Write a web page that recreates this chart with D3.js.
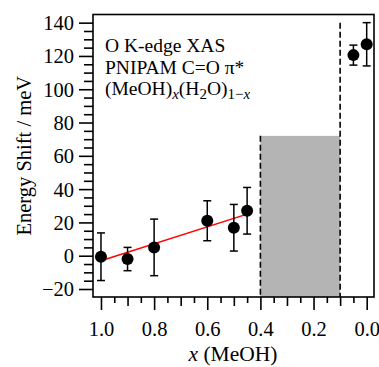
<!DOCTYPE html>
<html>
<head>
<meta charset="utf-8">
<script src="https://cdn.jsdelivr.net/npm/d3@7"></script>
<style>
  body { margin: 0; background: #fff; }
  svg text { font-family: "Liberation Serif", "Times New Roman", serif; fill: #000; }
</style>
</head>
<body>
<div id="chart"></div>
<script>
// Data
const xMeOH = [1.0, 0.9, 0.8, 0.6, 0.5, 0.45, 0.05, 0.0];
const shift = [-0.6, -2, 5, 21, 16.8, 27, 120.5, 127];
const shiftErr = [14.3, 7, 17, 12, 14, 14, 6, 13];
const fitX = [1.0, 0.45];
const fitY = [-3, 25];
const grayBand = [0.4, 0.1];
const grayTop = 72;
const dashTop = [72, 140];
const yTicks = [-20, 0, 20, 40, 60, 80, 100, 120, 140];
const xTicks = [1.0, 0.8, 0.6, 0.4, 0.2, 0.0];
const labelLines = ['O K-edge XAS', 'PNIPAM C=O \u03c0*'];

const width = 379, height = 367;
const m = { top: 14.5, right: 5, bottom: 70, left: 93 };

const svg = d3.select('#chart').append('svg')
  .attr('width', width)
  .attr('height', height);

const x = d3.scaleLinear().domain([1.03, -0.0275]).range([m.left, width - m.right]);
const y = d3.scaleLinear().domain([-24.8, 144.9]).range([height - m.bottom, m.top]);

// gray band + dashed lines
svg.append('rect')
  .attr('x', x(grayBand[0]))
  .attr('y', y(grayTop))
  .attr('width', x(grayBand[1]) - x(grayBand[0]))
  .attr('height', y(-24.8) - y(grayTop))
  .attr('fill', '#b4b4b4');

svg.selectAll('.dash')
  .data(grayBand)
  .enter().append('line')
    .attr('class', 'dash')
    .attr('x1', d => x(d)).attr('x2', d => x(d))
    .attr('y1', (d, i) => y(dashTop[i]))
    .attr('y2', y(-24.8))
    .attr('stroke', '#000')
    .attr('stroke-width', 1.6)
    .attr('stroke-dasharray', '6,3');

// frame
svg.append('rect')
  .attr('x', m.left).attr('y', m.top)
  .attr('width', width - m.right - m.left)
  .attr('height', height - m.bottom - m.top)
  .attr('fill', 'none')
  .attr('stroke', '#000')
  .attr('stroke-width', 1.6);

// y axis: major + minor ticks
const yMinor = d3.range(-20, 141, 5).filter(v => v % 20 !== 0);
const yAxis = svg.append('g').attr('transform', `translate(${m.left},0)`);
yAxis.call(d3.axisLeft(y).tickValues(yTicks).tickSize(14).tickSizeOuter(0).tickPadding(5).tickFormat(d3.format('d')));
yAxis.append('g').call(d3.axisLeft(y).tickValues(yMinor).tickSize(9).tickSizeOuter(0).tickFormat(''));
yAxis.selectAll('.domain').remove();
yAxis.selectAll('line').attr('stroke-width', 1.6);
yAxis.selectAll('text').style('font-size', '20.5px').attr('dy', '0.34em');

// x axis: major, medium, minor
const xMed = [0.9, 0.7, 0.5, 0.3, 0.1];
const xMinor = [0.95, 0.85, 0.75, 0.65, 0.55, 0.45, 0.35, 0.25, 0.15, 0.05];
const xAxis = svg.append('g').attr('transform', `translate(0,${height - m.bottom})`);
xAxis.call(d3.axisBottom(x).tickValues(xTicks).tickSize(13).tickSizeOuter(0).tickPadding(11).tickFormat(d3.format('.1f')));
xAxis.append('g').call(d3.axisBottom(x).tickValues(xMed).tickSize(9).tickSizeOuter(0).tickFormat(''));
xAxis.append('g').call(d3.axisBottom(x).tickValues(xMinor).tickSize(6).tickSizeOuter(0).tickFormat(''));
xAxis.selectAll('.domain').remove();
xAxis.selectAll('line').attr('stroke-width', 1.6);
xAxis.selectAll('text').style('font-size', '20.5px');

// fit line
svg.append('line')
  .attr('x1', x(fitX[0])).attr('y1', y(fitY[0]))
  .attr('x2', x(fitX[1])).attr('y2', y(fitY[1]))
  .attr('stroke', '#ff0000')
  .attr('stroke-width', 1.5);

// error bars + points
const pts = xMeOH.map((v, i) => ({ x: v, y: shift[i], e: shiftErr[i] }));
const eb = svg.append('g').attr('stroke', '#000').attr('stroke-width', 1.5);
eb.selectAll('.ebar').data(pts).enter().append('line')
  .attr('x1', d => x(d.x)).attr('x2', d => x(d.x))
  .attr('y1', d => y(d.y + d.e)).attr('y2', d => y(d.y - d.e));
eb.selectAll('.capt').data(pts).enter().append('line')
  .attr('x1', d => x(d.x) - 4).attr('x2', d => x(d.x) + 4)
  .attr('y1', d => y(d.y + d.e)).attr('y2', d => y(d.y + d.e));
eb.selectAll('.capb').data(pts).enter().append('line')
  .attr('x1', d => x(d.x) - 4).attr('x2', d => x(d.x) + 4)
  .attr('y1', d => y(d.y - d.e)).attr('y2', d => y(d.y - d.e));

svg.selectAll('.pt').data(pts).enter().append('circle')
  .attr('class', 'pt')
  .attr('cx', d => x(d.x)).attr('cy', d => y(d.y))
  .attr('r', 6)
  .attr('fill', '#000');

// annotation
const note = svg.append('text').attr('x', 105).attr('y', 52).style('font-size', '19.5px');
note.append('tspan').attr('x', 105).text(labelLines[0]);
note.append('tspan').attr('x', 105).attr('dy', 21.5).text(labelLines[1]);
const t3 = note.append('tspan').attr('x', 105).attr('dy', 21.5);
t3.text('(MeOH)');
note.append('tspan').attr('font-style', 'italic').attr('dy', 4).style('font-size', '15px').text('x');
note.append('tspan').attr('dy', -4).text('(H');
note.append('tspan').attr('dy', 4).style('font-size', '15px').text('2');
note.append('tspan').attr('dy', -4).text('O)');
note.append('tspan').attr('dy', 4).style('font-size', '15px').text('1\u2212');
note.append('tspan').attr('font-style', 'italic').style('font-size', '15px').text('x');

// axis titles
svg.append('text')
  .attr('transform', `translate(31,${(m.top + height - m.bottom) / 2}) rotate(-90)`)
  .attr('text-anchor', 'middle')
  .style('font-size', '20.5px')
  .text('Energy Shift / meV');

const xt = svg.append('text')
  .attr('x', 233).attr('y', 361)
  .attr('text-anchor', 'middle')
  .style('font-size', '21.5px');
xt.append('tspan').attr('font-style', 'italic').text('x');
xt.append('tspan').text(' (MeOH)');
</script>
</body>
</html>
